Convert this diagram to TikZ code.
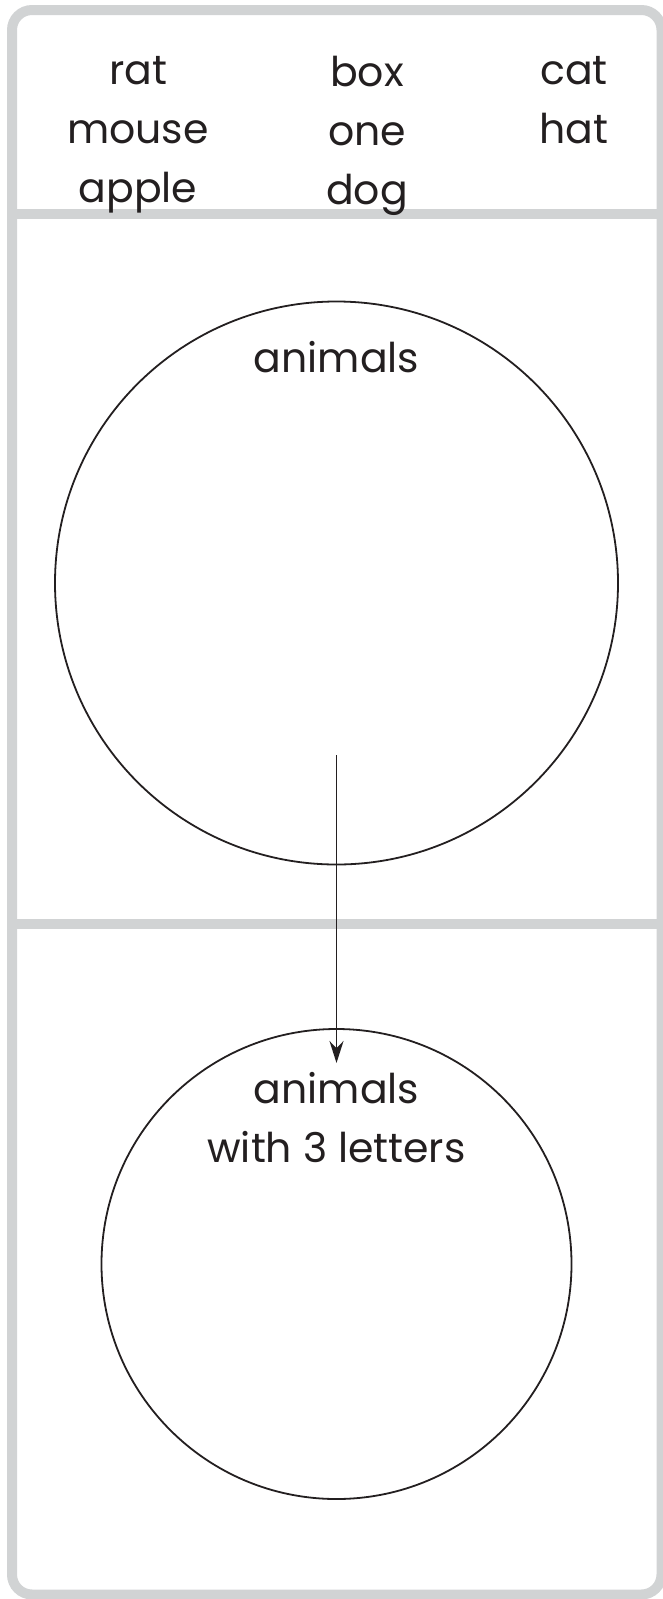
\documentclass[tikz,border=0pt]{standalone}
\usepackage{fontspec}
\setmainfont{Poppins}
\usepackage{xcolor}
\usetikzlibrary{positioning,arrows.meta,calc}

\definecolor{framegray}{HTML}{D1D3D4}
\definecolor{inkgray}{HTML}{231F20}

\begin{document}
\begin{tikzpicture}[x=1pt, y=-1pt,
  word/.style={text=inkgray, align=center, font=\fontsize{41}{59}\selectfont, inner sep=0pt},
  set/.style={draw=inkgray, circle, line width=1.8pt, inner sep=0pt},
  panel/.style={draw=framegray, line width=10pt}]
  \useasboundingbox (0, 0) rectangle (663, 1599);

  % Outer frame and the two dividers
  \draw[panel, rounded corners=20pt] (12, 10) rectangle (661.5, 1594.5);
  \draw[panel] (12, 214) -- (661.5, 214);
  \draw[panel] (12, 924) -- (661.5, 924);

  % Word lists on top
  \node[word, anchor=north] (colA) at (138, 56) {rat\\mouse\\apple};
  \node[word, anchor=north] (colB) at (367, 56) {box\\one\\dog};
  \node[word, anchor=north] (colC) at (574, 56) {cat\\hat};

  % Sets
  \node[set, minimum size=563pt] (animals) at (336.5, 583) {};
  \node[set, minimum size=470pt] (short) at (336.5, 1264) {};
  \node[word, anchor=north] (animalsLbl) at (animals.north |- 0, 341) {animals};
  \node[word, anchor=north] (shortLbl) at (short.north |- 0, 1072) {animals\\with 3 letters};

  % Arrow from first set into the second
  \coordinate (from) at (336.5, 755);
  \coordinate (to) at (336.5, 1063);
  \draw[inkgray, line width=1.8pt, -{Stealth[length=22pt, width=14pt]}] (from) -- (to);
\end{tikzpicture}
\end{document}
